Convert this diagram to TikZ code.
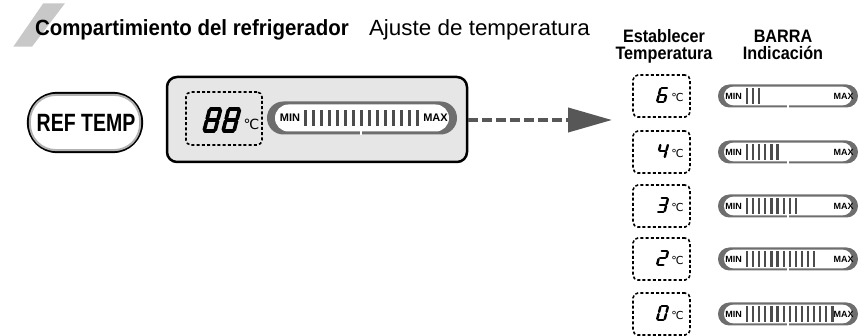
\documentclass[tikz,border=0pt]{standalone}
\usepackage{fontspec}
\setmainfont{Liberation Sans}
\newfontfamily\titlefont[FakeStretch=0.93]{Liberation Sans}
\newfontfamily\subfont[FakeStretch=1.02]{Liberation Sans}
\newfontfamily\headfont[FakeStretch=0.9]{Liberation Sans}
\newfontfamily\btnfont[FakeStretch=0.78]{Liberation Sans}
\newfontfamily\degfont{DejaVu Sans}
\usetikzlibrary{arrows.meta}
\definecolor{bargray}{HTML}{6E6E6E}
\definecolor{linegray}{HTML}{4C4C4C}
\definecolor{arrowgray}{HTML}{575757}
\definecolor{lcdfill}{HTML}{E6E6E6}
\definecolor{slashgray}{HTML}{C8C8C8}
\tikzset{
  segline/.style={line width=#1, line cap=round, shorten <=1.1pt, shorten >=1.1pt},
  dbox/.style={draw=black, line width=1.6pt, dash pattern=on 3pt off 2.2pt, rounded corners=5pt, minimum width=57pt, minimum height=42pt, inner sep=0pt},
  plain/.style={inner sep=0pt, outer sep=0pt},
  minmax/.style={inner sep=0pt, font=\bfseries\fontsize{#1}{#1}\selectfont},
}
\newcommand{\segdigit}[6]{%
  \begin{scope}[shift={(#1,#2)}, yscale=-1, xslant=-0.26]
    \def\sgw{#3}\def\sgh{#4}\pgfmathsetmacro\sgm{#4/2}\def\sglw{#5}%
    #6
  \end{scope}}
\newcommand{\sgA}{\draw[segline=\sglw] (0,\sgh) -- (\sgw,\sgh);}
\newcommand{\sgB}{\draw[segline=\sglw] (\sgw,\sgh) -- (\sgw,\sgm);}
\newcommand{\sgC}{\draw[segline=\sglw] (\sgw,\sgm) -- (\sgw,0);}
\newcommand{\sgD}{\draw[segline=\sglw] (0,0) -- (\sgw,0);}
\newcommand{\sgE}{\draw[segline=\sglw] (0,0) -- (0,\sgm);}
\newcommand{\sgF}{\draw[segline=\sglw] (0,\sgm) -- (0,\sgh);}
\newcommand{\sgG}{\draw[segline=\sglw] (0,\sgm) -- (\sgw,\sgm);}
% small level bar: #1 centre y, #2 number of lines, #3 name
\newcommand{\smallbar}[3]{%
  \fill[bargray, rounded corners=11.4pt] (718,#1-11.5) rectangle (858,#1+11.5);
  \fill[white, rounded corners=9.2pt] (724,#1-9.3) rectangle (852,#1+9.3);
  \fill[white] (787.2,#1+8) rectangle (788.8,#1+12);
  \foreach \i in {1,...,#2} {
    \draw[linegray, line width=2.2pt] ({747+6.1*(\i-1)},#1-7.8) -- ({747+6.1*(\i-1)},#1+7.8);
  }
  \node[minmax=9] (min#3) at (733.5,#1) {MIN};
  \node[minmax=9] (max#3) at (843.5,#1) {MAX};
}
% small temperature box: #1 centre y, #2 segments, #3 name
\newcommand{\smalltemp}[3]{%
  \node[dbox] (box#3) at (661.5,#1) {};
  \segdigit{657}{#1+6}{7.5}{14}{2.4pt}{#2}
  \node[plain, font=\degfont\fontsize{11}{11}\selectfont] (deg#3) at (677.5,#1+1.5) {℃};
}
\begin{document}
\begin{tikzpicture}[x=1pt,y=-1pt]
\useasboundingbox (0,0) rectangle (860,336);
% title
\fill[slashgray] (13.3,46.7) -- (32,46.7) -- (65,3.3) -- (43.3,3.3) -- cycle;
\node[plain, anchor=base west, font=\titlefont\bfseries\fontsize{22}{26}\selectfont] (title) at (35,36) {Compartimiento del refrigerador};
\node[plain, anchor=base west, font=\subfont\fontsize{22}{26}\selectfont] (subtitle) at (369,36) {Ajuste de temperatura};
% column heads
\node[plain, anchor=base, font=\headfont\bfseries\fontsize{18}{20}\selectfont] (h1a) at (664,43) {Establecer};
\node[plain, anchor=base, font=\headfont\bfseries\fontsize{18}{20}\selectfont] (h1b) at (664,60) {Temperatura};
\node[plain, anchor=base, font=\headfont\bfseries\fontsize{18}{20}\selectfont] (h2a) at (783,43) {BARRA};
\node[plain, anchor=base, font=\headfont\bfseries\fontsize{18}{20}\selectfont] (h2b) at (783,60) {Indicación};
% button
\node[draw=black, line width=2.2pt, fill=white, rounded corners=29pt, minimum width=114pt, minimum height=59pt, inner sep=0pt] (reftemp) at (85,122.5) {};
\draw[gray!60, line width=2pt, rounded corners=26pt] ([xshift=3pt,yshift=-3pt]reftemp.north west) rectangle ([xshift=-3pt,yshift=3pt]reftemp.south east);
\node[plain, font=\btnfont\bfseries\fontsize{25}{25}\selectfont] (reftext) at (86,123) {REF TEMP};
% LCD panel
\node[draw=black, line width=2.5pt, fill=lcdfill, rounded corners=10pt, minimum width=300pt, minimum height=85pt, inner sep=0pt] (lcd) at (317,119.5) {};
\node[dbox, minimum width=76pt, minimum height=53pt] (lcdbox) at (224,118.5) {};
\segdigit{204}{131}{11}{22}{3.6pt}{\sgA\sgB\sgC\sgD\sgE\sgF\sgG}
\segdigit{223}{131}{11}{22}{3.6pt}{\sgA\sgB\sgC\sgD\sgE\sgF\sgG}
\node[plain, font=\degfont\fontsize{14}{14}\selectfont] (lcddeg) at (251.5,124) {℃};
% main bar
\fill[bargray, rounded corners=16.4pt] (267,101.5) rectangle (457,134.5);
\fill[white, rounded corners=13.4pt] (275,104.5) rectangle (449,131.5);
\fill[white] (360,130) rectangle (362,135);
\foreach \i in {0,...,14} {
  \draw[linegray, line width=3pt] ({305+8*\i},110) -- ({305+8*\i},126);
}
\node[minmax=11] (mainmin) at (290,118) {MIN};
\node[minmax=11] (mainmax) at (435.5,118) {MAX};
% arrow
\coordinate (arrowend) at (612,120);
\draw[arrowgray, line width=4pt, dash pattern=on 10pt off 4pt, -{Triangle[length=44pt,width=24pt]}] (lcd.east |- arrowend) -- (arrowend);
% right column
\smalltemp{96}{\sgA\sgF\sgG\sgE\sgD\sgC}{six}
\smallbar{96}{3}{six}
\smalltemp{152}{\sgF\sgG\sgB\sgC}{four}
\smallbar{152}{6}{four}
\smalltemp{206}{\sgA\sgB\sgG\sgC\sgD}{three}
\smallbar{206}{9}{three}
\smalltemp{259}{\sgA\sgB\sgG\sgE\sgD}{two}
\smallbar{259}{12}{two}
\smalltemp{314}{\sgA\sgB\sgC\sgD\sgE\sgF}{zero}
\smallbar{314}{15}{zero}
\end{tikzpicture}
\end{document}
